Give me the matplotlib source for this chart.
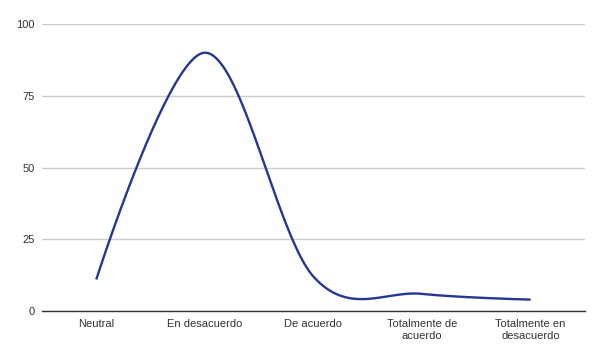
import numpy as np
import matplotlib.pyplot as plt

plt.rcParams['font.family'] = ['Liberation Sans', 'DejaVu Sans']

categories = ["Neutral", "En desacuerdo", "De acuerdo",
              "Totalmente de\nacuerdo", "Totalmente en\ndesacuerdo"]
values = [11, 90, 12, 6, 4]
yticks = [0, 25, 50, 75, 100]


def smooth(x, y, n=80, s=1 / 6):
    # bezier through the points, control points from the neighbours,
    # end points use themselves as control point
    p = np.column_stack([np.asarray(x, float), np.asarray(y, float)])
    cin = p.copy()
    cout = p.copy()
    for i in range(1, len(p) - 1):
        d = (p[i + 1] - p[i - 1]) * s
        cin[i] = p[i] - d
        cout[i] = p[i] + d
    t = np.linspace(0, 1, n)[:, None]
    segs = []
    for i in range(len(p) - 1):
        a, b, c, d = p[i], cout[i], cin[i + 1], p[i + 1]
        segs.append((1 - t)**3 * a + 3 * (1 - t)**2 * t * b
                    + 3 * (1 - t) * t**2 * c + t**3 * d)
    pts = np.vstack(segs)
    return pts[:, 0], pts[:, 1]


fig = plt.figure(figsize=(6.04, 3.58), dpi=100)
ax = fig.add_axes([0.0695, 0.131, 0.899, 0.802])

pos = np.arange(len(categories))
sx, sy = smooth(pos, values)
ax.plot(sx, sy, color='#283593', lw=1.7, solid_capstyle='butt', zorder=3)

ax.set_xlim(-0.5, len(categories) - 0.5)
ax.set_ylim(0, 100)
ax.set_yticks(yticks)
ax.set_xticks(pos)
ax.set_xticklabels(categories, fontsize=8, color='#333333', linespacing=1.25)
ax.tick_params(axis='y', labelsize=8, labelcolor='#333333', length=0, pad=5)
ax.tick_params(axis='x', length=0, pad=6)
ax.grid(axis='y', color='#cccccc', lw=1)
ax.set_axisbelow(True)
for s in ['top', 'right', 'left']:
    ax.spines[s].set_visible(False)
ax.spines['bottom'].set_color('#333333')
ax.spines['bottom'].set_linewidth(1)

plt.savefig("out.png", dpi=100)
